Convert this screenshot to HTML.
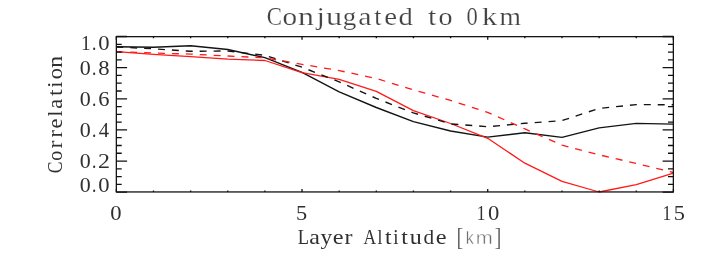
<!DOCTYPE html>
<html><head><meta charset="utf-8"><title>Conjugated to 0km</title>
<style>
html,body{margin:0;padding:0;background:#fff;}
body{width:708px;height:266px;overflow:hidden;}
svg{display:block;will-change:transform;}
text{font-family:"Liberation Serif",serif;}
.g{fill:#303030;}
.t{fill:#424242;stroke:#fff;stroke-width:0.2px;}
.br{fill:#666;}
.km{font-family:"Liberation Sans",sans-serif;fill:#6e6e6e;stroke:#fff;stroke-width:0.4px;}
</style></head><body>
<svg width="708" height="266" viewBox="0 0 708 266">
<rect width="708" height="266" fill="#fff"/>
<g id="title">
<text transform="translate(266.67,25.20) scale(0.876,1)" class="t" font-size="26">C</text>
<text transform="translate(282.39,25.20) scale(1.125,1)" class="t" font-size="26">o</text>
<text transform="translate(297.97,25.20) scale(1.224,1)" class="t" font-size="26">n</text>
<text transform="translate(316.56,25.20) scale(1.150,1)" class="t" font-size="26">j</text>
<text transform="translate(326.07,25.20) scale(1.245,1)" class="t" font-size="26">u</text>
<text transform="translate(342.83,25.20) scale(1.045,1)" class="t" font-size="26">g</text>
<text transform="translate(358.25,25.20) scale(1.149,1)" class="t" font-size="26">a</text>
<text transform="translate(374.25,25.20) scale(0.997,1)" class="t" font-size="26">t</text>
<text transform="translate(384.17,25.20) scale(1.112,1)" class="t" font-size="26">e</text>
<text transform="translate(398.46,25.20) scale(1.107,1)" class="t" font-size="26">d</text>
<text transform="translate(428.01,25.20) scale(1.159,1)" class="t" font-size="26">t</text>
<text transform="translate(438.53,25.20) scale(1.080,1)" class="t" font-size="26">o</text>
<text transform="translate(466.54,25.20) scale(0.871,1)" class="t" font-size="26">0</text>
<text transform="translate(482.12,25.20) scale(1.168,1)" class="t" font-size="26">k</text>
<text transform="translate(499.62,25.20) scale(1.064,1)" class="t" font-size="26">m</text>
</g>
<g fill="none" stroke-linejoin="round">
<polyline points="116.3,46.8 153.5,47.2 190.6,45.8 227.8,49.5 264.9,57.7 302.0,72.4 339.2,91.9 376.3,107.5 413.4,121.7 450.6,131.0 487.7,137.1 524.9,132.7 562.0,137.4 599.1,127.9 636.3,123.4 673.4,124.1" stroke="#141414" stroke-width="1.38"/>
<polyline points="116.3,51.7 153.5,54.3 190.6,56.6 227.8,59.1 264.9,60.5 302.0,72.6 339.2,79.3 376.3,91.4 413.4,110.6 450.6,123.5 487.7,138.3 524.9,163.2 562.0,181.3 599.1,192.0 636.3,184.7 673.4,173.1" stroke="#ff1a1a" stroke-width="1.3"/>
<polyline points="116.3,47.0 153.5,48.8 190.6,51.3 227.8,51.0 264.9,55.3 302.0,67.2 339.2,81.9 376.3,98.4 413.4,112.9 450.6,123.9 487.7,126.7 524.9,123.3 562.0,120.6 599.1,108.4 636.3,104.6 673.4,104.8" stroke="#141414" stroke-width="1.38" stroke-dasharray="6.95 6.97"/>
<polyline points="116.3,51.7 153.5,53.0 190.6,54.1 227.8,56.0 264.9,57.8 302.0,64.3 339.2,70.6 376.3,78.5 413.4,89.9 450.6,100.4 487.7,112.4 524.9,128.9 562.0,145.1 599.1,154.8 636.3,163.5 673.4,172.5" stroke="#ff1a1a" stroke-width="1.3" stroke-dasharray="6.95 6.97"/>
</g>
<rect x="116.35" y="36.65" width="557.0" height="155.3" fill="none" stroke="#151515" stroke-width="1.3"/>
<path d="M116.3 192.20h10.8M673.4 192.20h-10.8M116.3 184.41h5.4M673.4 184.41h-5.4M116.3 176.63h5.4M673.4 176.63h-5.4M116.3 168.84h5.4M673.4 168.84h-5.4M116.3 161.06h10.8M673.4 161.06h-10.8M116.3 153.27h5.4M673.4 153.27h-5.4M116.3 145.49h5.4M673.4 145.49h-5.4M116.3 137.70h5.4M673.4 137.70h-5.4M116.3 129.92h10.8M673.4 129.92h-10.8M116.3 122.13h5.4M673.4 122.13h-5.4M116.3 114.35h5.4M673.4 114.35h-5.4M116.3 106.56h5.4M673.4 106.56h-5.4M116.3 98.78h10.8M673.4 98.78h-10.8M116.3 90.99h5.4M673.4 90.99h-5.4M116.3 83.21h5.4M673.4 83.21h-5.4M116.3 75.42h5.4M673.4 75.42h-5.4M116.3 67.64h10.8M673.4 67.64h-10.8M116.3 59.85h5.4M673.4 59.85h-5.4M116.3 52.07h5.4M673.4 52.07h-5.4M116.3 44.28h5.4M673.4 44.28h-5.4M116.3 36.50h10.8M673.4 36.50h-10.8M116.35 192.0v-3.1M116.35 36.6v3.1M153.49 192.0v-1.6M153.49 36.6v1.6M190.62 192.0v-1.6M190.62 36.6v1.6M227.76 192.0v-1.6M227.76 36.6v1.6M264.90 192.0v-1.6M264.90 36.6v1.6M302.03 192.0v-3.1M302.03 36.6v3.1M339.17 192.0v-1.6M339.17 36.6v1.6M376.31 192.0v-1.6M376.31 36.6v1.6M413.44 192.0v-1.6M413.44 36.6v1.6M450.58 192.0v-1.6M450.58 36.6v1.6M487.72 192.0v-3.1M487.72 36.6v3.1M524.85 192.0v-1.6M524.85 36.6v1.6M561.99 192.0v-1.6M561.99 36.6v1.6M599.13 192.0v-1.6M599.13 36.6v1.6M636.26 192.0v-1.6M636.26 36.6v1.6M673.40 192.0v-3.1M673.40 36.6v3.1" stroke="#111" stroke-width="1.3" fill="none"/>
<g id="ylabels">
<text transform="translate(81.00,49.90) scale(0.938,1)" class="g" font-size="20.6">1</text>
<text transform="translate(92.11,49.90) scale(0.850,1)" class="g" font-size="20.6">.</text>
<text transform="translate(98.24,49.90) scale(1.100,1)" class="g" font-size="20.6">0</text>
<text transform="translate(79.86,75.10) scale(1.065,1)" class="g" font-size="20.6">0</text>
<text transform="translate(92.11,75.10) scale(0.850,1)" class="g" font-size="20.6">.</text>
<text transform="translate(98.24,75.10) scale(1.100,1)" class="g" font-size="20.6">8</text>
<text transform="translate(79.86,106.20) scale(1.065,1)" class="g" font-size="20.6">0</text>
<text transform="translate(92.11,106.20) scale(0.850,1)" class="g" font-size="20.6">.</text>
<text transform="translate(98.13,106.20) scale(1.091,1)" class="g" font-size="20.6">6</text>
<text transform="translate(79.86,137.30) scale(1.065,1)" class="g" font-size="20.6">0</text>
<text transform="translate(92.11,137.30) scale(0.850,1)" class="g" font-size="20.6">.</text>
<text transform="translate(98.70,137.30) scale(1.003,1)" class="g" font-size="20.6">4</text>
<text transform="translate(79.86,168.30) scale(1.065,1)" class="g" font-size="20.6">0</text>
<text transform="translate(92.11,168.30) scale(0.850,1)" class="g" font-size="20.6">.</text>
<text transform="translate(98.05,168.30) scale(1.162,1)" class="g" font-size="20.6">2</text>
<text transform="translate(79.86,192.10) scale(1.065,1)" class="g" font-size="20.6">0</text>
<text transform="translate(92.11,192.10) scale(0.850,1)" class="g" font-size="20.6">.</text>
<text transform="translate(98.24,192.10) scale(1.100,1)" class="g" font-size="20.6">0</text>
</g>
<g id="xlabels">
<text transform="translate(110.34,219.90) scale(1.100,1)" class="g" font-size="20.6">0</text>
<text transform="translate(296.10,219.90) scale(1.085,1)" class="g" font-size="20.6">5</text>
<text transform="translate(476.63,219.90) scale(0.850,1)" class="g" font-size="20.6">1</text>
<text transform="translate(488.04,219.90) scale(1.100,1)" class="g" font-size="20.6">0</text>
<text transform="translate(662.58,219.90) scale(0.850,1)" class="g" font-size="20.6">1</text>
<text transform="translate(673.80,219.90) scale(1.085,1)" class="g" font-size="20.6">5</text>
</g>
<g id="xl">
<text transform="translate(297.67,243.50) scale(0.893,1)" class="g" font-size="20.6">L</text>
<text transform="translate(309.25,243.50) scale(1.167,1)" class="g" font-size="20.6">a</text>
<text transform="translate(320.51,243.50) scale(1.134,1)" class="g" font-size="20.6">y</text>
<text transform="translate(332.85,243.50) scale(1.180,1)" class="g" font-size="20.6">e</text>
<text transform="translate(344.62,243.50) scale(1.165,1)" class="g" font-size="20.6">r</text>
<text transform="translate(363.61,243.50) scale(0.850,1)" class="g" font-size="20.6">A</text>
<text transform="translate(377.42,243.50) scale(0.850,1)" class="g" font-size="20.6">l</text>
<text transform="translate(384.97,243.50) scale(1.148,1)" class="g" font-size="20.6">t</text>
<text transform="translate(393.30,243.50) scale(0.919,1)" class="g" font-size="20.6">i</text>
<text transform="translate(401.37,243.50) scale(1.148,1)" class="g" font-size="20.6">t</text>
<text transform="translate(409.78,243.50) scale(1.168,1)" class="g" font-size="20.6">u</text>
<text transform="translate(423.43,243.50) scale(1.032,1)" class="g" font-size="20.6">d</text>
<text transform="translate(435.65,243.50) scale(1.180,1)" class="g" font-size="20.6">e</text>
<text transform="translate(456.60,245.30) scale(0.818,1)" class="br" font-size="24.7">[</text>
<text transform="translate(494.69,245.30) scale(0.800,1)" class="br" font-size="24.7">]</text>
<text transform="translate(465.81,243.50) scale(0.862,1)" class="km" font-size="18.7">k</text>
<text transform="translate(475.74,243.50) scale(1.091,1)" class="km" font-size="18.7">m</text>
</g>
<g id="yl">
<text transform="translate(61.80,173.22) rotate(-90) scale(0.850,1)" class="g" font-size="20.6">C</text>
<text transform="translate(61.80,160.66) rotate(-90) scale(0.974,1)" class="g" font-size="20.6">o</text>
<text transform="translate(61.80,148.38) rotate(-90) scale(1.165,1)" class="g" font-size="20.6">r</text>
<text transform="translate(61.80,137.54) rotate(-90) scale(1.069,1)" class="g" font-size="20.6">r</text>
<text transform="translate(61.80,128.58) rotate(-90) scale(1.089,1)" class="g" font-size="20.6">e</text>
<text transform="translate(61.80,116.43) rotate(-90) scale(1.041,1)" class="g" font-size="20.6">l</text>
<text transform="translate(61.80,108.67) rotate(-90) scale(1.069,1)" class="g" font-size="20.6">a</text>
<text transform="translate(61.80,96.03) rotate(-90) scale(1.148,1)" class="g" font-size="20.6">t</text>
<text transform="translate(61.80,87.87) rotate(-90) scale(1.082,1)" class="g" font-size="20.6">i</text>
<text transform="translate(61.80,79.15) rotate(-90) scale(1.088,1)" class="g" font-size="20.6">o</text>
<text transform="translate(61.80,67.96) rotate(-90) scale(1.188,1)" class="g" font-size="20.6">n</text>
</g>
</svg>
</body></html>
